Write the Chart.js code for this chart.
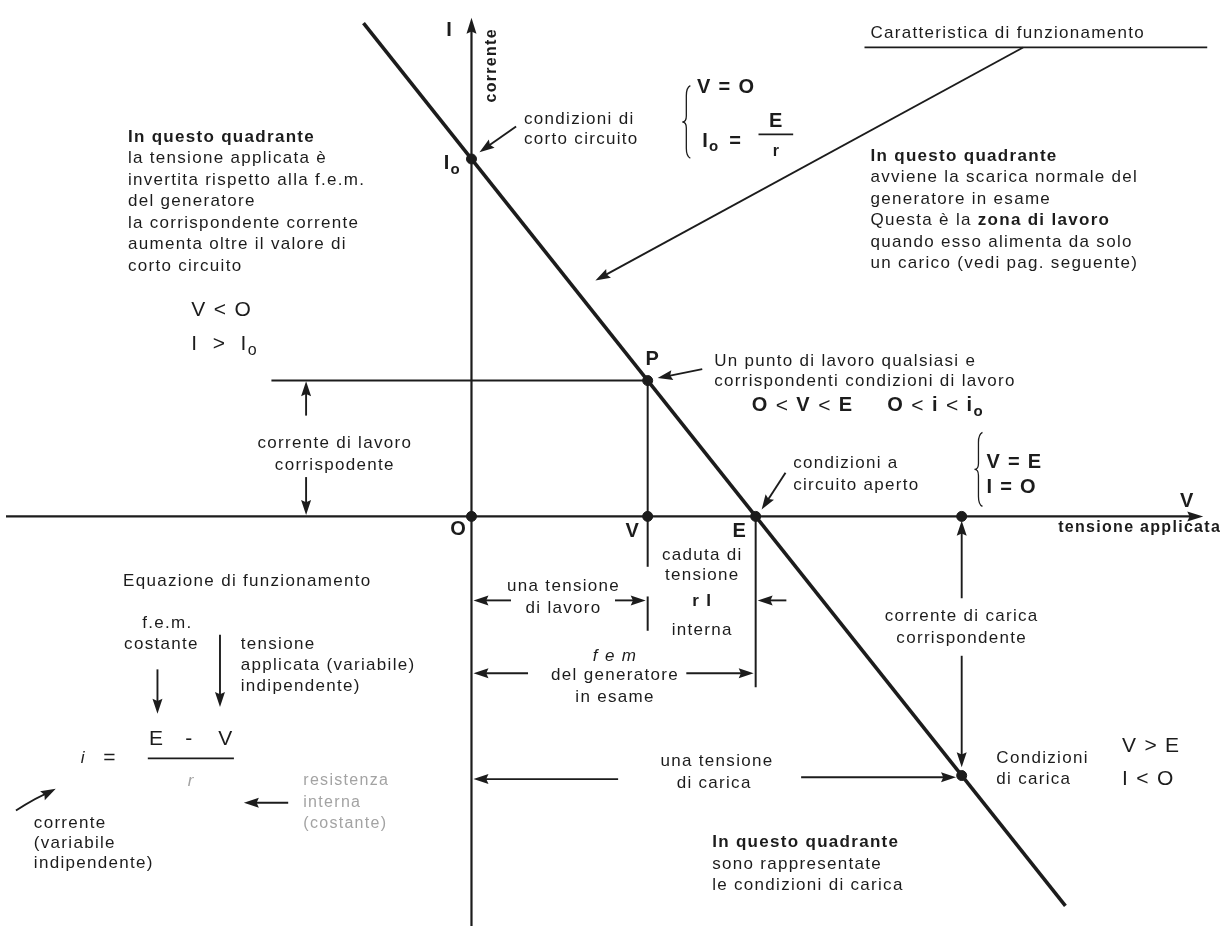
<!DOCTYPE html>
<html>
<head>
<meta charset="utf-8">
<script src="https://cdn.jsdelivr.net/npm/chart.js@4.4.0/dist/chart.umd.min.js"></script>
<style>
  html, body { margin: 0; padding: 0; background: #fff; }
  canvas { display: block; }
</style>
</head>
<body>
<canvas id="chart" width="1228" height="932"></canvas>
<script>
// --- data (V = tensione applicata, I = corrente), E = 10, Io = 10
const caratteristicaV = [-3.8, 20.9];
const caratteristicaI = [13.8, -10.9];
const puntiNome = ["O", "V", "E", "Io", "P", "carica", "Vcarica"];
const puntiV = [0, 6.2, 10, 0, 6.2, 17.25, 17.25];
const puntiI = [0, 0, 0, 10, 3.8, -7.25, 0];
const rangeV = [-16.38, 26.41];
const rangeI = [-11.46, 14.28];

// --- fonts
const FAM = '"Liberation Sans", Arial, sans-serif';
const F = {
  n: `17px ${FAM}`,
  b: `bold 17px ${FAM}`,
  ax: `bold 16px ${FAM}`,
  m: `bold 20px ${FAM}`,
  ml: `21px ${FAM}`,
  sub: `bold 15px ${FAM}`,
  subl: `16px ${FAM}`,
  it: `italic 17px ${FAM}`,
  g: `16px ${FAM}`
};
const INK = "#1c1c1c";
const GREY = "#a3a3a3";

// text labels: [text, V, I, font, align, colour]
const testi = [
  ["I", -0.77, 13.59, "m", "center"],
  ["condizioni di", 1.85, 11.10, "n", "left"],
  ["corto circuito", 1.85, 10.55, "n", "left"],
  ["V = O", 7.94, 11.99, "m", "left"],
  ["=", 9.30, 10.50, "m", "center"],
  ["E", 10.73, 11.05, "m", "center"],
  ["r", 10.73, 10.22, "ax", "center"],
  ["P", 6.38, 4.39, "m", "center"],
  ["Un punto di lavoro qualsiasi e", 8.54, 4.34, "n", "left"],
  ["corrispondenti condizioni di lavoro", 8.54, 3.78, "n", "left"],
  ["condizioni a", 11.32, 1.49, "n", "left"],
  ["circuito aperto", 11.32, 0.88, "n", "left"],
  ["V = E", 18.12, 1.52, "m", "left"],
  ["I = O", 18.12, 0.80, "m", "left"],
  ["V", 25.19, 0.41, "m", "center"],
  ["tensione applicata", 26.38, -0.30, "ax", "right"],
  ["O", -0.45, -0.36, "m", "center"],
  ["V", 5.68, -0.41, "m", "center"],
  ["E", 9.44, -0.41, "m", "center"],
  ["V < O", -9.86, 5.77, "ml", "left"],
  ["corrente di lavoro", -4.81, 2.04, "n", "center"],
  ["corrispodente", -4.81, 1.44, "n", "center"],
  ["Equazione di funzionamento", -12.26, -1.82, "n", "left"],
  ["f.e.m.", -10.70, -2.98, "n", "center"],
  ["costante", -10.91, -3.59, "n", "center"],
  ["tensione", -8.12, -3.59, "n", "left"],
  ["applicata (variabile)", -8.12, -4.17, "n", "left"],
  ["indipendente)", -8.12, -4.75, "n", "left"],
  ["i", -13.66, -6.77, "it", "center"],
  ["=", -12.72, -6.77, "ml", "center"],
  ["E", -11.08, -6.22, "ml", "center"],
  ["-", -9.93, -6.22, "ml", "center"],
  ["V", -8.64, -6.22, "ml", "center"],
  ["r", -9.86, -7.40, "it", "center", GREY],
  ["resistenza", -5.92, -7.40, "g", "left", GREY],
  ["interna", -5.92, -8.01, "g", "left", GREY],
  ["(costante)", -5.92, -8.59, "g", "left", GREY],
  ["corrente", -15.40, -8.59, "n", "left"],
  ["(variabile", -15.40, -9.14, "n", "left"],
  ["indipendente)", -15.40, -9.72, "n", "left"],
  ["una tensione", 3.24, -1.96, "n", "center"],
  ["di lavoro", 3.24, -2.57, "n", "center"],
  ["caduta di", 8.12, -1.10, "n", "center"],
  ["tensione", 8.12, -1.66, "n", "center"],
  ["r I", 8.12, -2.38, "b", "center"],
  ["interna", 8.12, -3.20, "n", "center"],
  ["f e m", 5.05, -3.90, "it", "center"],
  ["del generatore", 5.05, -4.45, "n", "center"],
  ["in esame", 5.05, -5.06, "n", "center"],
  ["una tensione", 8.64, -6.85, "n", "center"],
  ["di carica", 8.54, -7.46, "n", "center"],
  ["corrente di carica", 17.25, -2.79, "n", "center"],
  ["corrispondente", 17.25, -3.40, "n", "center"],
  ["Condizioni", 18.47, -6.77, "n", "left"],
  ["di carica", 18.47, -7.35, "n", "left"],
  ["V > E", 22.89, -6.44, "ml", "left"],
  ["I < O", 22.89, -7.35, "ml", "left"],
  ["Caratteristica di funzionamento", 14.04, 13.51, "n", "left"]
];

// text with subscripts / mixed weight: [runs, V, I]
const composti = [
  [[["I", "m", 0], ["o", "sub", 6]], -0.98, 9.86],
  [[["I", "m", 0], ["o", "sub", 6]], 8.12, 10.50],
  [[["I  >  I", "ml", 0], ["o", "subl", 6]], -9.86, 4.81],
  [[["O", "m", 0], [" < ", "ml", 0], ["V", "m", 0], [" < ", "ml", 0], ["E", "m", 0]], 9.86, 3.09],
  [[["O", "m", 0], [" < ", "ml", 0], ["i", "m", 0], [" < ", "ml", 0], ["i", "m", 0], ["o", "sub", 6]], 14.63, 3.09]
];

// paragraphs: [V, I, lines]
const paragrafi = [
  [-12.09, 10.61, [
    [["In questo quadrante", "b"]],
    [["la tensione applicata è", "n"]],
    [["invertita rispetto alla f.e.m.", "n"]],
    [["del generatore", "n"]],
    [["la corrispondente corrente", "n"]],
    [["aumenta oltre il valore di", "n"]],
    [["corto circuito", "n"]]
  ]],
  [14.04, 10.08, [
    [["In questo quadrante", "b"]],
    [["avviene la scarica normale del", "n"]],
    [["generatore in esame", "n"]],
    [["Questa è la ", "n"], ["zona di lavoro", "b"]],
    [["quando esso alimenta da solo", "n"]],
    [["un carico (vedi pag. seguente)", "n"]]
  ]],
  [8.47, -9.12, [
    [["In questo quadrante", "b"]],
    [["sono rappresentate", "n"]],
    [["le condizioni di carica", "n"]]
  ]]
];

// arrows: [V1, I1, V2 (tip), I2 (tip)]
const frecce = [
  [1.57, 10.91, 0.28, 10.19],
  [19.41, 13.12, 4.36, 6.60],
  [8.12, 4.12, 6.55, 3.87],
  [11.05, 1.22, 10.21, 0.19],
  [-5.82, 2.82, -5.82, 3.78],
  [-5.82, 1.10, -5.82, 0.04],
  [1.39, -2.35, 0.07, -2.35],
  [5.05, -2.35, 6.13, -2.35],
  [11.08, -2.35, 10.07, -2.35],
  [1.99, -4.39, 0.07, -4.39],
  [7.56, -4.39, 9.93, -4.39],
  [5.16, -7.35, 0.07, -7.35],
  [11.60, -7.30, 17.05, -7.30],
  [17.25, -2.29, 17.25, -0.12],
  [17.25, -3.90, 17.25, -7.02],
  [-11.05, -4.28, -11.05, -5.52],
  [-8.85, -3.31, -8.85, -5.33],
  [-6.45, -8.01, -8.01, -8.01]
];

// guide lines: [V1, I1, V2, I2, width]
const guide = [
  [-7.04, 3.8, 6.2, 3.8, 2],
  [6.2, 3.8, 6.2, -1.41, 2],
  [6.2, -2.24, 6.2, -3.20, 2],
  [10, 0, 10, -4.78, 2],
  [-11.39, -6.77, -8.36, -6.77, 1.8],
  [10.10, 10.69, 11.32, 10.69, 1.8],
  [13.83, 13.12, 25.89, 13.12, 1.8]
];

// braces: [V, Itop, Ibottom]
const graffe = [
  [7.56, 12.05, 10.02],
  [17.84, 2.35, 0.28]
];

function arrowHead(ctx, x1, y1, x2, y2, len, half) {
  const a = Math.atan2(y2 - y1, x2 - x1);
  const c = Math.cos(a), s = Math.sin(a);
  ctx.beginPath();
  ctx.moveTo(x2, y2);
  ctx.lineTo(x2 - len * c + half * s, y2 - len * s - half * c);
  ctx.lineTo(x2 - len * 0.85 * c, y2 - len * 0.85 * s);
  ctx.lineTo(x2 - len * c - half * s, y2 - len * s + half * c);
  ctx.closePath();
  ctx.fill();
}

function drawRuns(ctx, runs, x, y, align) {
  let w = 0;
  runs.forEach(r => { ctx.font = F[r[1]]; w += ctx.measureText(r[0]).width; });
  let cx = align === "center" ? x - w / 2 : align === "right" ? x - w : x;
  ctx.textAlign = "left";
  runs.forEach(r => {
    ctx.font = F[r[1]];
    ctx.fillText(r[0], cx, y + (r[2] || 0));
    cx += ctx.measureText(r[0]).width;
  });
}

const diagramma = {
  id: "diagramma",
  beforeDatasetsDraw(chart) {
    const ctx = chart.ctx;
    const X = v => chart.scales.x.getPixelForValue(v);
    const Y = i => chart.scales.y.getPixelForValue(i);
    ctx.save();
    ctx.strokeStyle = INK;
    ctx.fillStyle = INK;
    // axes
    ctx.lineWidth = 2.2;
    ctx.beginPath();
    ctx.moveTo(X(0), Y(rangeI[0]));
    ctx.lineTo(X(0), Y(13.6));
    ctx.moveTo(X(rangeV[0]), Y(0));
    ctx.lineTo(X(25.4), Y(0));
    ctx.stroke();
    arrowHead(ctx, X(0), Y(12), X(0), Y(13.95), 16, 5);
    arrowHead(ctx, X(24), Y(0), X(25.75), Y(0), 16, 5);
    // guide lines
    guide.forEach(g => {
      ctx.lineWidth = g[4];
      ctx.beginPath();
      ctx.moveTo(X(g[0]), Y(g[1]));
      ctx.lineTo(X(g[2]), Y(g[3]));
      ctx.stroke();
    });
    ctx.restore();
  },
  afterDatasetsDraw(chart) {
    const ctx = chart.ctx;
    const X = v => chart.scales.x.getPixelForValue(v);
    const Y = i => chart.scales.y.getPixelForValue(i);
    ctx.save();
    ctx.strokeStyle = INK;
    ctx.fillStyle = INK;
    // arrows
    ctx.lineWidth = 1.9;
    frecce.forEach(f => {
      const x1 = X(f[0]), y1 = Y(f[1]), x2 = X(f[2]), y2 = Y(f[3]);
      const a = Math.atan2(y2 - y1, x2 - x1);
      ctx.beginPath();
      ctx.moveTo(x1, y1);
      ctx.lineTo(x2 - 9 * Math.cos(a), y2 - 9 * Math.sin(a));
      ctx.stroke();
      arrowHead(ctx, x1, y1, x2, y2, 15, 5);
    });
    // curved arrow "corrente"
    ctx.beginPath();
    ctx.moveTo(X(-16.03), Y(-8.23));
    ctx.quadraticCurveTo(X(-15.3), Y(-7.85), X(-14.85), Y(-7.72));
    ctx.stroke();
    arrowHead(ctx, X(-15.3), Y(-7.9), X(-14.63), Y(-7.62), 15, 5);
    // braces
    ctx.lineWidth = 1.3;
    graffe.forEach(b => {
      const x = X(b[0]), t = Y(b[1]), bt = Y(b[2]), m = (t + bt) / 2;
      ctx.beginPath();
      ctx.moveTo(x + 4, t);
      ctx.quadraticCurveTo(x, t + 2, x, t + 10);
      ctx.lineTo(x, m - 6);
      ctx.quadraticCurveTo(x, m, x - 4, m);
      ctx.quadraticCurveTo(x, m, x, m + 6);
      ctx.lineTo(x, bt - 10);
      ctx.quadraticCurveTo(x, bt - 2, x + 4, bt);
      ctx.stroke();
    });
    // labels
    ctx.textBaseline = "middle";
    ctx.letterSpacing = "1.3px";
    testi.forEach(t => {
      ctx.font = F[t[3]];
      ctx.fillStyle = t[5] || INK;
      ctx.textAlign = t[4];
      ctx.fillText(t[0], X(t[1]), Y(t[2]));
    });
    ctx.fillStyle = INK;
    composti.forEach(c => drawRuns(ctx, c[0], X(c[1]), Y(c[2]), "left"));
    paragrafi.forEach(p => {
      p[2].forEach((line, k) => drawRuns(ctx, line, X(p[0]), Y(p[1]) + k * 21.5, "left"));
    });
    // "corrente" along the I axis
    ctx.save();
    ctx.translate(X(0.70), Y(12.62));
    ctx.rotate(-Math.PI / 2);
    ctx.font = F.ax;
    ctx.textAlign = "center";
    ctx.fillText("corrente", 0, 0);
    ctx.restore();
    ctx.restore();
  }
};

new Chart(document.getElementById("chart"), {
  type: "scatter",
  data: {
    datasets: [
      {
        label: "Caratteristica di funzionamento",
        data: caratteristicaV.map((v, k) => ({ x: v, y: caratteristicaI[k] })),
        showLine: true,
        borderColor: INK,
        borderWidth: 3.6,
        pointRadius: 0
      },
      {
        label: "punti",
        data: puntiV.map((v, k) => ({ x: v, y: puntiI[k], nome: puntiNome[k] })),
        pointRadius: 5,
        backgroundColor: INK,
        borderColor: INK
      }
    ]
  },
  options: {
    responsive: false,
    animation: false,
    layout: { padding: 0 },
    plugins: { legend: { display: false }, tooltip: { enabled: false } },
    scales: {
      x: { type: "linear", min: rangeV[0], max: rangeV[1], display: false },
      y: { type: "linear", min: rangeI[0], max: rangeI[1], display: false }
    }
  },
  plugins: [diagramma]
});
</script>
</body>
</html>
